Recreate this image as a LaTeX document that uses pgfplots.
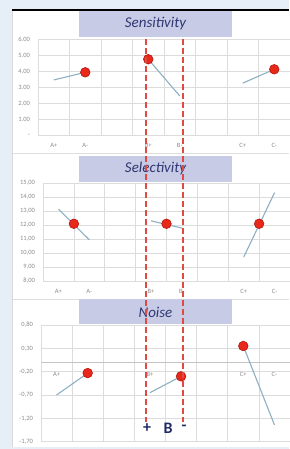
\documentclass[border=0pt]{standalone}
\usepackage{pgfplots}
\pgfplotsset{compat=1.18}
\usepackage{fontspec}
\setmainfont{Carlito}
\definecolor{bgblue}{HTML}{E6EEF8}
\definecolor{titlefill}{HTML}{C7CBE6}
\definecolor{titletext}{HTML}{2E3872}
\definecolor{gridc}{HTML}{DCDCDC}
\definecolor{axisc}{HTML}{C4C4C4}
\definecolor{linec}{HTML}{8DB0C4}
\definecolor{markfill}{HTML}{E8281B}
\definecolor{markedge}{HTML}{B3170E}
\definecolor{dashred}{HTML}{E04A45}
\definecolor{ticktext}{HTML}{8C8C8C}
\definecolor{bnavy}{HTML}{1F2A66}
\pgfplotsset{
  panel/.style={
    scale only axis, xmin=0.5, xmax=8.5,
    axis line style={draw=none},
    xtick={1,2,4,5,7,8},
    xticklabels={A+,A-,B+,B-,C+,C-},
    minor xtick={0.5,1.5,...,8.5},
    xminorgrids, ymajorgrids,
    grid style={gridc, line width=0.6pt},
    minor grid style={gridc, line width=0.6pt},
    major tick length=0pt, minor tick length=0pt,
    tick label style={font=\fontsize{6.5}{7}\selectfont, text=ticktext},
    xticklabel style={yshift=-4.5pt},
    yticklabel style={xshift=-4.5pt},
    clip=false,
  },
  effect/.style={linec, line width=1.1pt, mark=none},
  dot/.style={only marks, mark=*, mark size=4.8pt, mark options={fill=markfill, draw=markedge, line width=0.6pt}},
}
\begin{document}
\begin{tikzpicture}[x=1pt,y=1pt]
\path[use as bounding box] (0,0) rectangle (289,449);
\fill[bgblue] (0,0) rectangle (289,449);
\fill[white] (12,2) rectangle (289,439);
\draw[gray!25, line width=0.8pt] (12,296) -- (289,296);
\draw[gray!25, line width=0.8pt] (12,150) -- (289,150);
\draw[gray!30, line width=0.6pt] (12,2) -- (12,439);
\draw[black, line width=1.2pt] (12,439) -- (289,439);
% title boxes
\fill[titlefill] (79,412) rectangle (232,438);
\fill[titlefill] (79,267) rectangle (232,293);
\fill[titlefill] (79,125) rectangle (232,150);
\node[text=titletext, font=\fontsize{15}{17}\selectfont\itshape] at (155.5,425) {Sensitivity};
\node[text=titletext, font=\fontsize{15}{17}\selectfont\itshape] at (155.5,280) {Selectivity};
\node[text=titletext, font=\fontsize{15}{17}\selectfont\itshape] at (155.5,137) {Noise};

% Sensitivity
\begin{axis}[panel, at={(38pt,314pt)}, anchor=south west, width=252pt, height=95.7pt,
  ymin=0, ymax=6, ytick={0,1,2,3,4,5,6},
  yticklabels={-,1.00,2.00,3.00,4.00,5.00,6.00}]
\addplot[effect] coordinates {(1,3.45) (2,3.93)};
\addplot[effect] coordinates {(4,4.75) (5,2.45)};
\addplot[effect] coordinates {(7,3.25) (8,4.12)};
\addplot[dot] coordinates {(2,3.93) (4,4.75) (8,4.12)};
\end{axis}

% Selectivity
\begin{axis}[panel, at={(43pt,168pt)}, anchor=south west, width=247pt, height=97.7pt,
  ymin=8, ymax=15, ytick={8,9,10,11,12,13,14,15},
  yticklabels={{8,00},{9,00},{10,00},{11,00},{12,00},{13,00},{14,00},{15,00}}]
\addplot[effect] coordinates {(1,13.15) (2,10.95)};
\addplot[effect] coordinates {(4,12.31) (5,11.79)};
\addplot[effect] coordinates {(7,9.71) (8,14.33)};
\addplot[dot] coordinates {(1.5,12.1) (4.5,12.1) (7.5,12.1)};
\end{axis}

% Noise
\begin{axis}[panel, at={(41pt,7.3pt)}, anchor=south west, width=249pt, height=116.7pt,
  axis x line*=middle, x axis line style={draw=axisc, line width=0.8pt, -},
  y axis line style={draw=none},
  xticklabel style={yshift=-1.5pt},
  ymin=-1.7, ymax=0.8, ytick={-1.7,-1.2,-0.7,-0.2,0.3,0.8},
  yticklabels={{-1,70},{-1,20},{-0,70},{-0,20},{0,30},{0,80}}]
\addplot[effect] coordinates {(1,-0.70) (2,-0.23)};
\addplot[effect] coordinates {(4,-0.65) (5,-0.30)};
\addplot[effect] coordinates {(7,0.35) (8,-1.34)};
\addplot[dot] coordinates {(2,-0.23) (5,-0.30) (7,0.35)};
\end{axis}

% annotation
\draw[dashred, line width=1.3pt, dash pattern=on 6pt off 3pt] (146,410) -- (146,27);
\draw[dashred, line width=1.3pt, dash pattern=on 6pt off 3pt] (183,410) -- (183,27);
\node[text=bnavy, font=\fontsize{16}{18}\selectfont\bfseries] at (147,21) {+};
\node[text=bnavy, font=\fontsize{16}{18}\selectfont\bfseries] at (168,21) {B};
\node[text=bnavy, font=\fontsize{16}{18}\selectfont\bfseries] at (184,21) {-};
\end{tikzpicture}
\end{document}
